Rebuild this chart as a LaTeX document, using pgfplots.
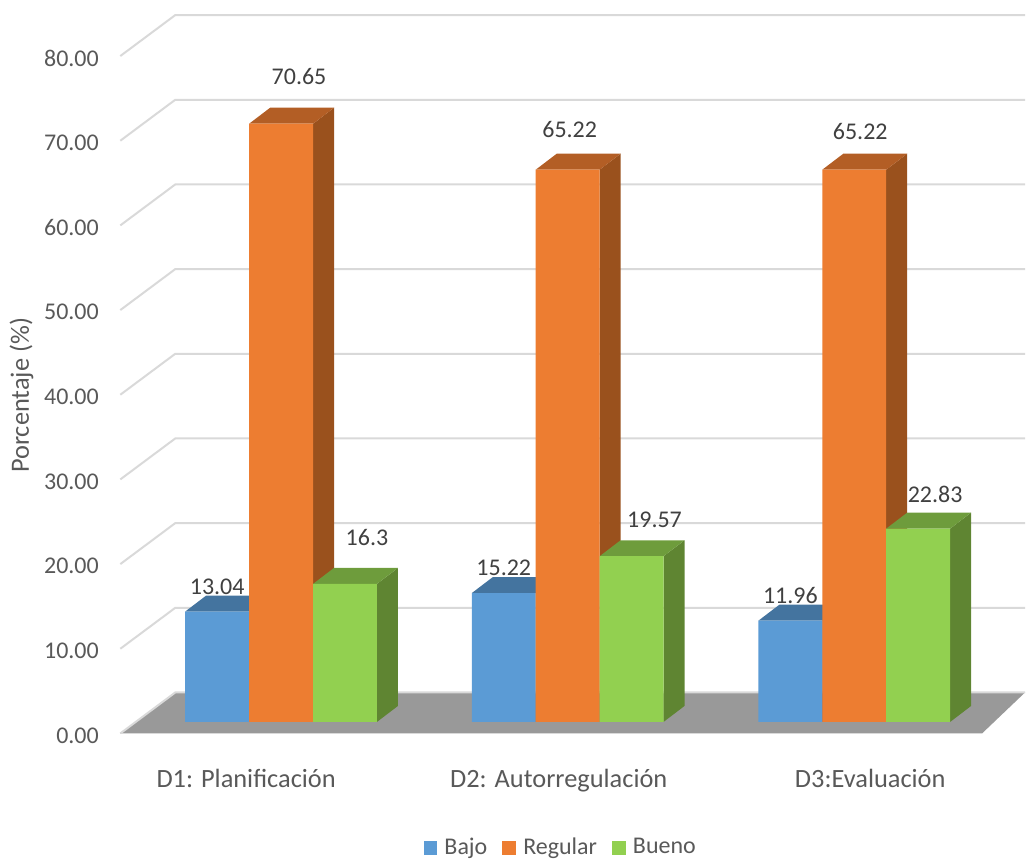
\documentclass[border=0pt]{standalone}
\usepackage{pgfplots}
\usepackage{fontspec}
\setmainfont{Carlito}
\pgfplotsset{compat=1.18}
\definecolor{valc}{HTML}{404040}
\definecolor{axc}{HTML}{595959}
\definecolor{gridc}{HTML}{D9D9D9}
\definecolor{floorc}{HTML}{999999}
\definecolor{bf}{HTML}{5B9BD5}\definecolor{bt}{HTML}{44749F}\definecolor{bs}{HTML}{3E6A92}
\definecolor{of}{HTML}{ED7D31}\definecolor{ot}{HTML}{B35E25}\definecolor{os}{HTML}{9A511D}
\definecolor{gf}{HTML}{92D050}\definecolor{gt}{HTML}{6E9C3C}\definecolor{gs}{HTML}{5F8532}
% x of left edge (px), value, front / top / side colours
\newcommand{\threeDbar}[5]{%
  \pgfmathsetmacro\xa{#1}\pgfmathsetmacro\xb{#1+64}%
  \pgfmathsetmacro\xc{#1+85}\pgfmathsetmacro\xd{#1+21}%
  \pgfmathsetmacro\ya{1.356}\pgfmathsetmacro\yb{#2+1.356}%
  \pgfmathsetmacro\yc{#2+1.356+1.887}\pgfmathsetmacro\ye{1.356+1.887}%
  \addplot[forget plot,fill=#5,draw=none] coordinates {(\xb,\ya) (\xc,\ye) (\xc,\yc) (\xb,\yb) (\xb,\ya)};
  \addplot[forget plot,fill=#4,draw=none] coordinates {(\xa,\yb) (\xb,\yb) (\xc,\yc) (\xd,\yc) (\xa,\yb)};
  \addplot[forget plot,fill=#3,draw=none] coordinates {(\xa,\ya) (\xb,\ya) (\xb,\yb) (\xa,\yb) (\xa,\ya)};
}
\newcommand{\gridl}[1]{%
  \pgfmathsetmacro\yg{#1+4.835}%
  \addplot[forget plot,draw=gridc,line width=1pt] coordinates {(120,#1) (175,\yg) (1026,\yg)};
}
\begin{document}
\begin{tikzpicture}
\begin{axis}[
  at={(60.25pt,61.25pt)},anchor=south west,
  scale only axis,width=453pt,height=367pt,
  xmin=120,xmax=1026,ymin=0,ymax=86.56,
  clip=false,
  axis line style={draw=none},
  tick style={draw=none},
  font=\fontsize{12}{14}\selectfont,
  /pgf/number format/assume math mode=true,
  ytick={0,10,20,30,40,50,60,70,80},
  yticklabel style={/pgf/number format/fixed,/pgf/number format/fixed zerofill,/pgf/number format/precision=2,text=axc,xshift=-7.25pt,yshift=-1pt},
  xtick={246,559,871},
  xticklabels={D1: Planificación,D2: Autorregulación,D3:Evaluación},
  xticklabel style={text=axc,yshift=-14.5pt,font=\fontsize{13.2}{15}\selectfont},
  ylabel={Porcentaje (\%)},
  every axis y label/.style={at={(axis cs:21,39.93)},rotate=90,anchor=center,text=axc,font=\fontsize{13.2}{15}\selectfont},
  legend columns=3,
  legend cell align=left,
  legend style={at={(rel axis cs:0.4878,-0.156)},anchor=center,draw=none,fill=none,
    text=axc,/tikz/every even column/.append style={column sep=5.5pt},
    /tikz/every odd column/.append style={column sep=1.5pt}},
  legend image code/.code={\fill[draw=none,#1] (0pt,-3.5pt) rectangle (7pt,3.5pt);},
]
\addlegendimage{draw=none,fill=bf}\addlegendentry{Bajo}
\addlegendimage{draw=none,fill=of}\addlegendentry{Regular}
\addlegendimage{draw=none,fill=gf}\addlegendentry{Bueno}
\addplot[forget plot,fill=floorc,draw=none] coordinates {(120,0) (175,4.835) (1026,4.835) (983,0) (120,0)};
\gridl{0}\gridl{10}\gridl{20}\gridl{30}\gridl{40}\gridl{50}\gridl{60}\gridl{70}\gridl{80}
\addplot[forget plot,draw=gridc,line width=.5pt] coordinates {(120,0) (983,0)};
\threeDbar{185}{13.04}{bf}{bt}{bs}
\threeDbar{249}{70.65}{of}{ot}{os}
\threeDbar{313}{16.3}{gf}{gt}{gs}
\threeDbar{472}{15.22}{bf}{bt}{bs}
\threeDbar{536}{65.22}{of}{ot}{os}
\threeDbar{600}{19.57}{gf}{gt}{gs}
\threeDbar{759}{11.96}{bf}{bt}{bs}
\threeDbar{823}{65.22}{of}{ot}{os}
\threeDbar{887}{22.83}{gf}{gt}{gs}
\node[text=valc] at (axis cs:217,17.33) {13.04};
\node[text=valc] at (axis cs:299,77.59) {70.65};
\node[text=valc] at (axis cs:367,23.11) {16.3};
\node[text=valc] at (axis cs:504,19.58) {15.22};
\node[text=valc] at (axis cs:570,71.34) {65.22};
\node[text=valc] at (axis cs:655,25.24) {19.57};
\node[text=valc] at (axis cs:791,16.27) {11.96};
\node[text=valc] at (axis cs:861,71.11) {65.22};
\node[text=valc] at (axis cs:936,28.18) {22.83};
\end{axis}
\useasboundingbox (0,0) rectangle (513pt,428.5pt);
\end{tikzpicture}
\end{document}
